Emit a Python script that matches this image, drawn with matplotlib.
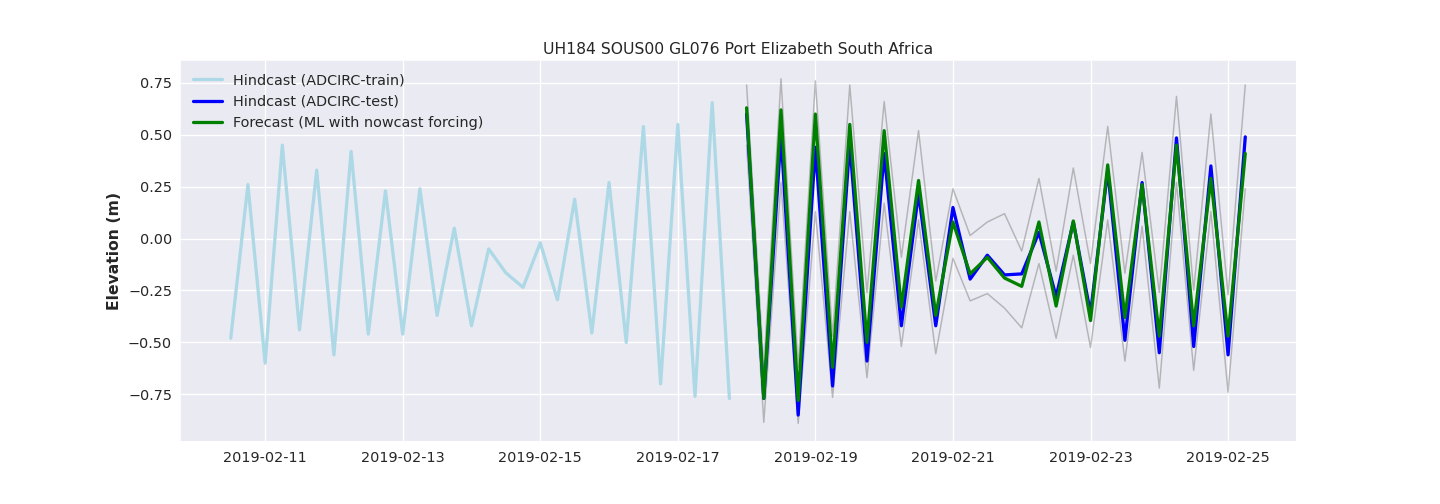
import numpy as np
import pandas as pd
import matplotlib
matplotlib.use("Agg")
import matplotlib.pyplot as plt
import matplotlib.dates as mdates
import seaborn as sns

train_start = "2019-02-10 12:00"
test_start = "2019-02-18 00:00"
train = [-0.48, 0.26, -0.60, 0.45, -0.44, 0.33, -0.56, 0.42, -0.46, 0.23,
         -0.46, 0.24, -0.37, 0.05, -0.42, -0.05, -0.165, -0.235, -0.02, -0.295,
         0.19, -0.455, 0.27, -0.50, 0.54, -0.70, 0.55, -0.76, 0.655, -0.77]
test = [0.60, -0.77, 0.50, -0.85, 0.44, -0.71, 0.46, -0.59, 0.41, -0.42,
        0.22, -0.42, 0.15, -0.195, -0.08, -0.175, -0.17, 0.03, -0.28, 0.08,
        -0.36, 0.33, -0.49, 0.27, -0.55, 0.485, -0.52, 0.35, -0.56, 0.49]
forecast = [0.63, -0.77, 0.62, -0.78, 0.60, -0.62, 0.55, -0.50, 0.52, -0.33,
            0.28, -0.37, 0.08, -0.17, -0.09, -0.19, -0.23, 0.08, -0.325, 0.085,
            -0.395, 0.355, -0.38, 0.26, -0.47, 0.45, -0.42, 0.29, -0.47, 0.41]
upper = [0.74, -0.62, 0.77, -0.62, 0.76, -0.47, 0.74, -0.26, 0.66, -0.09,
         0.52, -0.205, 0.24, 0.015, 0.08, 0.12, -0.06, 0.29, -0.157, 0.34,
         -0.12, 0.54, -0.167, 0.415, -0.26, 0.685, -0.25, 0.60, -0.27, 0.74]
lower = [0.45, -0.885, 0.27, -0.89, 0.13, -0.765, 0.13, -0.67, 0.17, -0.52,
         0.09, -0.555, -0.095, -0.30, -0.265, -0.335, -0.43, -0.12, -0.48, -0.08,
         -0.525, 0.09, -0.59, 0.06, -0.72, 0.27, -0.635, 0.13, -0.74, 0.24]
tick_dates = ["2019-02-11", "2019-02-13", "2019-02-15", "2019-02-17",
              "2019-02-19", "2019-02-21", "2019-02-23", "2019-02-25"]
y_ticks = [-0.75, -0.50, -0.25, 0.00, 0.25, 0.50, 0.75]

sns.set_style("darkgrid")
t_train = pd.date_range(train_start, periods=len(train), freq="6h")
t_test = pd.date_range(test_start, periods=len(test), freq="6h")

fig, ax = plt.subplots(figsize=(20, 7), dpi=72)
fig.subplots_adjust(left=0.125, right=0.9, top=0.88, bottom=0.125)

ax.plot(t_test, upper, color="0.5", alpha=0.5, lw=1.5)
ax.plot(t_test, lower, color="0.5", alpha=0.5, lw=1.5)
ax.plot(t_train, train, color="lightblue", lw=3.25, label="Hindcast (ADCIRC-train)")
ax.plot(t_test, test, color="blue", lw=3.25, label="Hindcast (ADCIRC-test)")
ax.plot(t_test, forecast, color="green", lw=3.25, label="Forecast (ML with nowcast forcing)")

ax.set_xticks(pd.to_datetime(tick_dates))
ax.xaxis.set_major_formatter(mdates.DateFormatter("%Y-%m-%d"))
ax.set_yticks(y_ticks)
ax.set_yticklabels([f"{v:.2f}".replace("-", "\u2212") for v in y_ticks])
ax.grid(True, color="white", lw=1.3)
ax.tick_params(axis="x", labelsize=14.4, pad=6)
ax.tick_params(axis="y", labelsize=14.4, pad=4.5)
ax.set_ylim(-0.975, 0.858)
ax.set_ylabel("Elevation (m)", fontsize=15.6, fontweight="bold", labelpad=5.5)
ax.set_title("UH184 SOUS00 GL076 Port Elizabeth South Africa", fontsize=15.6)
ax.legend(loc="upper left", fontsize=14.4, frameon=False)
fig.savefig("out.png")
